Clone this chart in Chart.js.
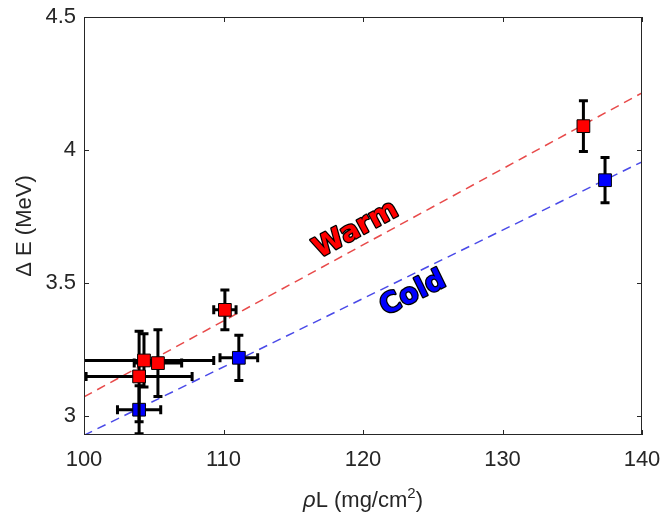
<!DOCTYPE html>
<html>
<head>
<meta charset="utf-8">
<script src="https://cdn.jsdelivr.net/npm/chart.js@4"></script>
<style>
  html, body { margin: 0; padding: 0; background: #fff; }
  #wrap { width: 665px; height: 519px; }
</style>
</head>
<body>
<div id="wrap"><canvas id="dE"></canvas></div>
<script>
// warm measurements
var warmX    = [104.3, 105.3, 103.95, 110.1, 135.8];
var warmY    = [3.21, 3.20, 3.15, 3.40, 4.09];
var warmXErr = [5.0, 1.7, 3.8, 0.8, 0];
var warmYErr = [0.10, 0.125, 0.17, 0.075, 0.095];
// cold measurements
var coldX    = [103.95, 111.1, 137.35];
var coldY    = [3.025, 3.22, 3.887];
var coldXErr = [1.55, 1.35, 0];
var coldYErr = [0.09, 0.085, 0.085];
// fit lines (end points)
var fitX     = [100, 140];
var warmFitY = [3.073, 4.215];
var coldFitY = [2.929, 3.956];
// axes
var xTicks = [100, 110, 120, 130, 140];
var yTicks = [3, 3.5, 4, 4.5];

function pts(xs, ys) {
  return xs.map(function (x, i) { return { x: x, y: ys[i] }; });
}

var FONT = 'Liberation Sans, Arial, sans-serif';
var AX = '#262626';

// error bars under the squares
var errorBars = {
  id: 'errorBars',
  beforeDatasetDraw: function (chart, args) {
    var ds = chart.data.datasets[args.index];
    if (!ds.xErr) return;
    var xs = chart.scales.x, ys = chart.scales.y, ctx = chart.ctx, a = chart.chartArea;
    ctx.save();
    ctx.beginPath();
    ctx.rect(a.left, a.top, a.right - a.left, a.bottom - a.top);
    ctx.clip();
    ctx.strokeStyle = '#000';
    ctx.lineWidth = 3;
    var cap = 4.5;
    ds.data.forEach(function (p, i) {
      var px = xs.getPixelForValue(p.x), py = ys.getPixelForValue(p.y);
      var ye = ds.yErr[i], xe = ds.xErr[i];
      if (ye > 0) {
        var t = ys.getPixelForValue(p.y + ye), b = ys.getPixelForValue(p.y - ye);
        ctx.beginPath();
        ctx.moveTo(px, t); ctx.lineTo(px, b);
        ctx.moveTo(px - cap, t); ctx.lineTo(px + cap, t);
        ctx.moveTo(px - cap, b); ctx.lineTo(px + cap, b);
        ctx.stroke();
      }
      if (xe > 0) {
        var l = xs.getPixelForValue(p.x - xe), r = xs.getPixelForValue(p.x + xe);
        ctx.beginPath();
        ctx.moveTo(l, py); ctx.lineTo(r, py);
        ctx.moveTo(l, py - cap); ctx.lineTo(l, py + cap);
        ctx.moveTo(r, py - cap); ctx.lineTo(r, py + cap);
        ctx.stroke();
      }
    });
    ctx.restore();
  }
};

// box with inward ticks, x title with superscript, Warm / Cold labels
var frame = {
  id: 'frame',
  afterDraw: function (chart) {
    var ctx = chart.ctx, a = chart.chartArea, xs = chart.scales.x, ys = chart.scales.y;
    ctx.save();
    ctx.strokeStyle = AX;
    ctx.lineWidth = 1;
    ctx.strokeRect(a.left + 0.5, a.top + 0.5, a.right - a.left - 1, a.bottom - a.top - 1);
    var tl = 5;
    ctx.beginPath();
    xTicks.forEach(function (v) {
      var px = Math.round(xs.getPixelForValue(v)) + 0.5;
      ctx.moveTo(px, a.bottom); ctx.lineTo(px, a.bottom - tl);
      ctx.moveTo(px, a.top); ctx.lineTo(px, a.top + tl);
    });
    yTicks.forEach(function (v) {
      var py = Math.round(ys.getPixelForValue(v)) + 0.5;
      ctx.moveTo(a.left, py); ctx.lineTo(a.left + tl, py);
      ctx.moveTo(a.right, py); ctx.lineTo(a.right - tl, py);
    });
    ctx.stroke();

    // x title: italic rho, superscript 2
    var parts = [
      { t: 'ρ', f: 'italic 22px ' + FONT, dy: 0 },
      { t: 'L (mg/cm', f: '22px ' + FONT, dy: 0 },
      { t: '2', f: '15px ' + FONT, dy: -9 },
      { t: ')', f: '22px ' + FONT, dy: 0 },
    ];
    var total = 0;
    parts.forEach(function (p) { ctx.font = p.f; p.w = ctx.measureText(p.t).width; total += p.w; });
    var cx = (a.left + a.right) / 2 - total / 2, by = 507;
    ctx.fillStyle = AX;
    ctx.textAlign = 'left';
    ctx.textBaseline = 'alphabetic';
    parts.forEach(function (p) { ctx.font = p.f; ctx.fillText(p.t, cx, by + p.dy); cx += p.w; });

    function label(text, x, y, fitY, color) {
      var x0 = xs.getPixelForValue(fitX[0]), x1 = xs.getPixelForValue(fitX[1]);
      var y0 = ys.getPixelForValue(fitY[0]), y1 = ys.getPixelForValue(fitY[1]);
      var ang = Math.atan2(y1 - y0, x1 - x0);
      ctx.save();
      ctx.translate(xs.getPixelForValue(x), ys.getPixelForValue(y));
      ctx.rotate(ang);
      ctx.font = 'bold 28px "DejaVu Sans", sans-serif';
      ctx.textAlign = 'center';
      ctx.textBaseline = 'middle';
      ctx.lineWidth = 2.5;
      ctx.lineJoin = 'round';
      ctx.strokeStyle = '#000';
      ctx.strokeText(text, 0, 0);
      ctx.fillStyle = color;
      ctx.fillText(text, 0, 0);
      ctx.restore();
    }
    label('Warm', 119.5, 3.70, warmFitY, '#ff0000');
    label('Cold', 123.6, 3.46, coldFitY, '#0000ff');
    ctx.restore();
  }
};

var ctx = document.getElementById('dE').getContext('2d');
var chart = new Chart(ctx, {
  type: 'scatter',
  data: {
    datasets: [{
      label: 'Warm',
      data: pts(warmX, warmY),
      xErr: warmXErr,
      yErr: warmYErr,
      pointStyle: 'rect',
      pointRadius: 9,
      backgroundColor: '#ff0000',
      borderColor: '#000',
      borderWidth: 1,
      order: 1,
    }, {
      label: 'Cold',
      data: pts(coldX, coldY),
      xErr: coldXErr,
      yErr: coldYErr,
      pointStyle: 'rect',
      pointRadius: 9,
      backgroundColor: '#0000ff',
      borderColor: '#000',
      borderWidth: 1,
      order: 2,
    }, {
      label: 'Warm fit',
      type: 'line',
      data: pts(fitX, warmFitY),
      borderColor: '#e84a4a',
      borderWidth: 1.5,
      borderDash: [9, 6],
      pointRadius: 0,
      order: 5,
    }, {
      label: 'Cold fit',
      type: 'line',
      data: pts(fitX, coldFitY),
      borderColor: '#4a4ae8',
      borderWidth: 1.5,
      borderDash: [9, 6],
      pointRadius: 0,
      order: 6,
    }],
  },
  options: {
    responsive: true,
    maintainAspectRatio: false,
    animation: false,
    layout: { padding: { left: 0, right: 23, top: 17, bottom: 0 } },
    plugins: {
      legend: { display: false },
      tooltip: { enabled: false },
    },
    scales: {
      x: {
        type: 'linear',
        min: 100,
        max: 140,
        afterBuildTicks: function (s) { s.ticks = xTicks.map(function (v) { return { value: v }; }); },
        afterFit: function (s) { s.height = 84; s.paddingLeft = 0; s.paddingRight = 0; },
        grid: { display: false, drawTicks: false },
        border: { display: false },
        ticks: { color: AX, font: { family: FONT, size: 22 }, padding: 12, maxRotation: 0 },
        title: { display: false },
      },
      y: {
        type: 'linear',
        min: 2.93,
        max: 4.5,
        afterBuildTicks: function (s) { s.ticks = yTicks.map(function (v) { return { value: v }; }); },
        afterFit: function (s) { s.width = 84; s.paddingTop = 0; s.paddingBottom = 0; },
        grid: { display: false, drawTicks: false },
        border: { display: false },
        ticks: {
          color: AX,
          font: { family: FONT, size: 22 },
          padding: 8,
          callback: function (v) { return String(v); },
        },
        title: {
          display: true,
          text: 'Δ E (MeV)',
          color: AX,
          font: { family: FONT, size: 22 },
          padding: { top: 12, bottom: 0 },
        },
      },
    },
  },
  plugins: [errorBars, frame],
});
</script>
</body>
</html>
